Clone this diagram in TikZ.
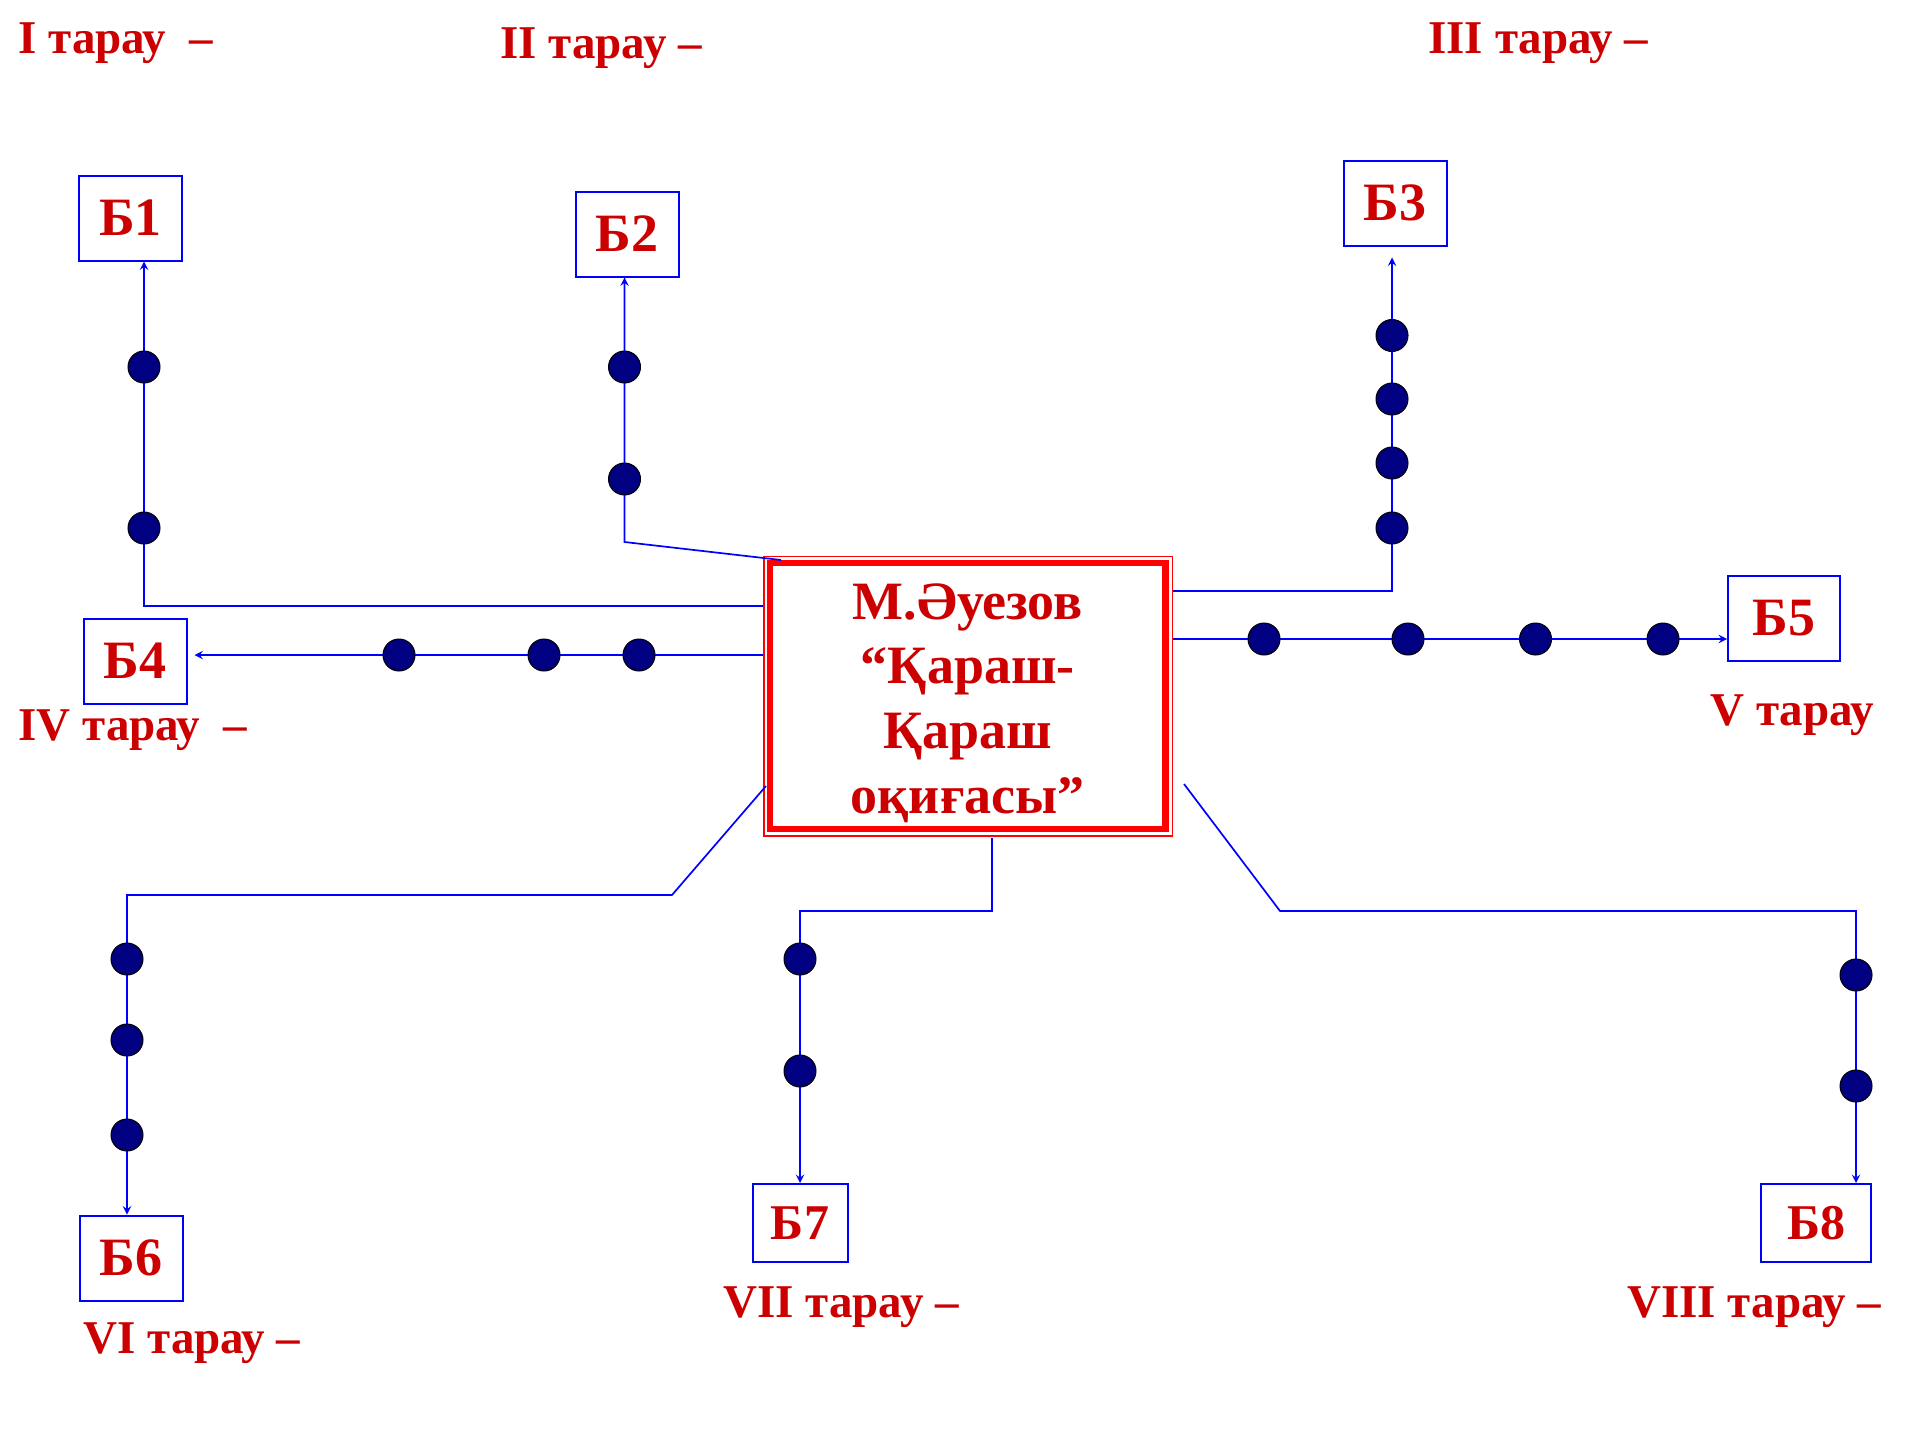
\documentclass[tikz,border=0pt]{standalone}
\usepackage{fontspec}
\setmainfont{Liberation Serif}
\definecolor{TitleRed}{HTML}{CC0000}
\definecolor{FrameRed}{HTML}{FF0000}
\definecolor{LinkBlue}{HTML}{0000FF}
\definecolor{DotNavy}{HTML}{000080}

\begin{document}
\begin{tikzpicture}[
    x=0.5pt, y=-0.5pt,
    >=stealth,
    every node/.style={text=TitleRed, inner sep=0pt},
    bbox/.style={draw=LinkBlue, line width=1pt, minimum width=51.5pt, minimum height=42.5pt, font=\fontsize{27}{30}\selectfont\bfseries},
    sbox/.style={bbox, minimum height=39pt, font=\fontsize{25}{28}\selectfont\bfseries},
    main/.style={draw=FrameRed, line width=3.25pt, minimum width=197.75pt, minimum height=133pt},
    title/.style={align=center, font=\fontsize{27}{32.3}\selectfont\bfseries},
    chapter/.style={anchor=base west, font=\fontsize{23.5}{26}\selectfont\bfseries},
    link/.style={draw=LinkBlue, line width=0.85pt},
    arrow/.style={link, ->},
    dot/.style={circle, draw=black, line width=0.5pt, fill=DotNavy, minimum size=16pt}
  ]
    \useasboundingbox (0,0) rectangle (1920,1440);

    % central box
    \node[main] (main) at (967.75,696) {};
    \node[title] (title) at (967.75,703) {М.Әуезов\\“Қараш-\\Қараш\\оқиғасы”};
    \draw[FrameRed, line width=0.75pt] ([shift={(-3,-3.5)}]main.north west) rectangle ([shift={(3.5,3.5)}]main.south east);

    % target boxes
    \node[bbox] (b1) at (130.5,218) {Б1};
    \node[bbox] (b2) at (627,234) {Б2};
    \node[bbox] (b3) at (1395,203) {Б3};
    \node[bbox] (b4) at (135,661) {Б4};
    \node[bbox, minimum width=56pt] (b5) at (1784,618.5) {Б5};
    \node[bbox] (b6) at (131,1258) {Б6};
    \node[sbox, minimum width=47.5pt] (b7) at (800,1223) {Б7};
    \node[sbox, minimum width=55pt] (b8) at (1816,1223) {Б8};

    % chapter labels
    \node[chapter] (lab1) at (18,53) {I тарау~~–};
    \node[chapter] (lab2) at (500,58) {II тарау –};
    \node[chapter] (lab3) at (1428,53) {III тарау –};
    \node[chapter] (lab4) at (18,740) {IV тарау~~–};
    \node[chapter] (lab5) at (1710,725) {V тарау};
    \node[chapter] (lab6) at (83,1353) {VI тарау –};
    \node[chapter] (lab7) at (723,1317) {VII тарау –};
    \node[chapter] (lab8) at (1627,1317) {VIII тарау –};

    % start points on the central box and dot positions
    \coordinate (s1) at (763,606);
    \coordinate (s2) at (781,560);
    \coordinate (s3) at (1173,591);
    \coordinate (s4) at (763,655);
    \coordinate (s5) at (1173,639);
    \coordinate (s6) at (766,786);
    \coordinate (s7) at (992,838);
    \coordinate (s8) at (1184,784);

    \coordinate (d1a) at (144,367);
    \coordinate (d1b) at (144,528);
    \coordinate (d2a) at (624.5,367);
    \coordinate (d2b) at (624.5,479);
    \coordinate (d3a) at (1392,335.5);
    \coordinate (d3b) at (1392,399);
    \coordinate (d3c) at (1392,463);
    \coordinate (d3d) at (1392,528);
    \coordinate (d4a) at (399,655);
    \coordinate (d4b) at (544,655);
    \coordinate (d4c) at (639,655);
    \coordinate (d5a) at (1264,639);
    \coordinate (d5b) at (1408,639);
    \coordinate (d5c) at (1535.5,639);
    \coordinate (d5d) at (1663,639);
    \coordinate (d6a) at (127,959);
    \coordinate (d6b) at (127,1040);
    \coordinate (d6c) at (127,1135);
    \coordinate (d7a) at (800,959);
    \coordinate (d7b) at (800,1071);
    \coordinate (d8a) at (1856,975);
    \coordinate (d8b) at (1856,1086);

    % branches
    \draw[arrow] (s1) -| (d1b) -- (d1a) -- (d1a |- b1.south);
    \draw[arrow] (s2) -- (d2b |- 0,542) -- (d2b) -- (d2a) -- (d2a |- b2.south);
    \draw[arrow, shorten >=5.5pt] (s3) -| (d3d) -- (d3c) -- (d3b) -- (d3a) -- (d3a |- b3.south);
    \draw[arrow, shorten >=3.5pt] (s4) -- (d4c) -- (d4b) -- (d4a) -- (b4.east |- d4a);
    \draw[arrow] (s5) -- (d5a) -- (d5b) -- (d5c) -- (d5d) -- (b5.west |- d5a);
    \draw[arrow] (s6) -- (672,895) -| (d6a) -- (d6b) -- (d6c) -- (d6c |- b6.north);
    \draw[arrow] (s7) -- ++(0,73) -| (d7a) -- (d7b) -- (b7.north);
    \draw[arrow] (s8) -- (1280,911) -| (d8a) -- (d8b) -- (d8b |- b8.north);

    \foreach \d in {d1a,d1b,d2a,d2b,d3a,d3b,d3c,d3d,d4a,d4b,d4c,d5a,d5b,d5c,d5d,d6a,d6b,d6c,d7a,d7b,d8a,d8b}
      \node[dot] (dot-\d) at (\d) {};
  \end{tikzpicture}
\end{document}
